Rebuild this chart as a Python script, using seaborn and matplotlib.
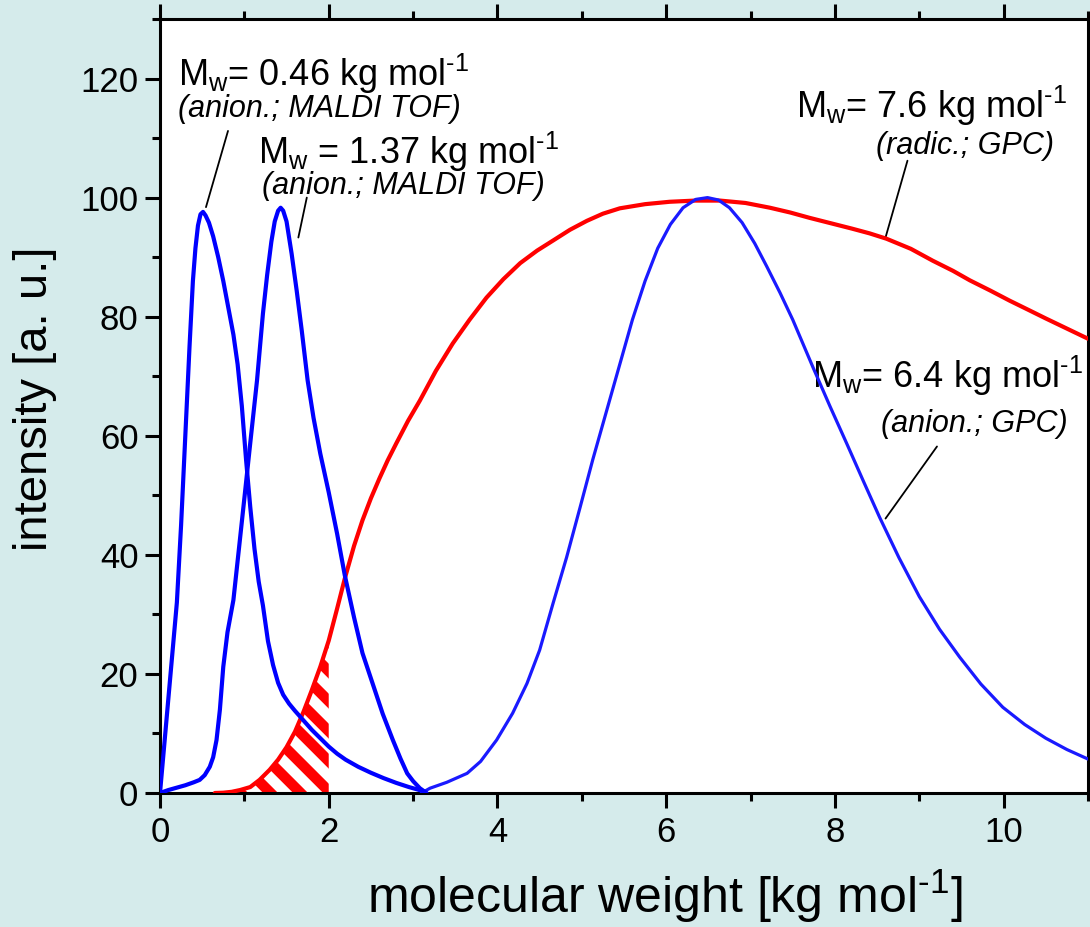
import numpy as np
import pandas as pd
import matplotlib
matplotlib.use("Agg")
import matplotlib.pyplot as plt
from matplotlib.collections import LineCollection
from matplotlib.ticker import MultipleLocator
import seaborn as sns

# ---------------- data ----------------
# anionic, MALDI TOF, Mw = 0.46 kg/mol
x_maldi1 = [0, 0.05, 0.1, 0.15, 0.2, 0.25, 0.3, 0.35, 0.39, 0.42, 0.45, 0.48, 0.51, 0.54,
            0.58, 0.63, 0.69, 0.75, 0.81, 0.87, 0.92, 0.97, 1.02, 1.07, 1.12, 1.17, 1.22,
            1.28, 1.34, 1.40, 1.46, 1.53, 1.6, 1.7, 1.8, 1.9, 2.0, 2.1, 2.2, 2.35, 2.5,
            2.65, 2.8, 2.95, 3.05, 3.12]
y_maldi1 = [0, 8, 16, 24, 32, 45, 60, 75, 86, 91.5, 95.3, 97.2, 97.6, 97,
            95.8, 93.5, 90, 86, 81.5, 77, 72, 65, 56, 48, 41, 35.5, 31.5,
            25.5, 21.5, 18.5, 16.5, 15, 13.8, 12.2, 10.6, 9.2, 7.8, 6.6, 5.6, 4.4, 3.4,
            2.5, 1.7, 1.0, 0.6, 0.3]
# anionic, MALDI TOF, Mw = 1.37 kg/mol
x_maldi2 = [0, 0.1, 0.2, 0.3, 0.4, 0.47, 0.53, 0.59, 0.63, 0.67, 0.71, 0.75, 0.8, 0.87,
            0.94, 1.0, 1.07, 1.15, 1.22, 1.27, 1.32, 1.36, 1.40, 1.43, 1.46, 1.50, 1.56,
            1.62, 1.68, 1.75, 1.82, 1.9, 2.0, 2.1, 2.19, 2.3, 2.4, 2.52, 2.64, 2.76, 2.85,
            2.93, 3.0, 3.08, 3.16]
y_maldi2 = [0, 0.5, 0.9, 1.3, 1.8, 2.2, 3.0, 4.4, 6, 8.9, 14, 21.2, 27, 32.4,
            41.6, 49.5, 58.8, 69.3, 80.5, 87, 92.6, 96, 97.8, 98.3, 97.8, 96, 90.6,
            84.4, 77.7, 69.3, 63, 57, 50.5, 43.5, 36.6, 29.5, 23.5, 18.4, 13.3, 8.9, 5.8,
            3.3, 2.0, 0.8, 0]
# anionic, GPC, Mw = 6.4 kg/mol
x_gpc_an = [3.1, 3.2, 3.4, 3.64, 3.8, 3.99, 4.18, 4.35, 4.5, 4.66, 4.82, 4.98, 5.13, 5.28,
            5.44, 5.6, 5.75, 5.9, 6.05, 6.2, 6.35, 6.49, 6.62, 6.75, 6.9, 7.05, 7.19, 7.35,
            7.5, 7.62, 7.74, 7.94, 8.14, 8.34, 8.53, 8.76, 9.0, 9.24, 9.48, 9.73, 9.99,
            10.25, 10.5, 10.75, 11.0]
y_gpc_an = [0, 0.8, 1.8, 3.3, 5.3, 8.9, 13.4, 18.4, 24, 31.9, 39.6, 48, 56, 63.5,
            71.5, 79.5, 86, 91.5, 95.5, 98.3, 99.7, 100, 99.6, 98.3, 95.8, 92.3, 88.5, 84,
            79.5, 75.5, 71.5, 65, 58.7, 52.3, 46.3, 39.5, 33, 27.5, 22.8, 18.3, 14.4,
            11.5, 9.2, 7.3, 5.7]
# radical, GPC, Mw = 7.6 kg/mol
x_gpc_rad = [0.65, 0.75, 0.85, 0.95, 1.07, 1.18, 1.30, 1.40, 1.50, 1.6, 1.7, 1.8, 1.9, 2.0,
             2.1, 2.19, 2.3, 2.4, 2.5, 2.6, 2.7, 2.8, 2.94, 3.08, 3.27, 3.47, 3.67, 3.87,
             4.07, 4.27, 4.47, 4.66, 4.86, 5.06, 5.25, 5.45, 5.75, 6.04, 6.34, 6.64, 6.94,
             7.23, 7.47, 7.7, 7.95, 8.2, 8.41, 8.61, 8.9, 9.16, 9.4, 9.6, 9.84, 10.07,
             10.3, 10.5, 10.75, 11.0]
y_gpc_rad = [0, 0.05, 0.2, 0.5, 1.0, 2.2, 3.9, 5.6, 7.7, 10.3, 13.6, 17.3, 21.2, 25.6,
             31, 36, 41.5, 45.8, 49.5, 52.8, 55.9, 58.7, 62.5, 65.9, 70.9, 75.5, 79.5, 83.2,
             86.3, 89, 91.1, 92.8, 94.6, 96.1, 97.3, 98.2, 98.9, 99.3, 99.5, 99.5, 99.1,
             98.3, 97.5, 96.6, 95.7, 94.8, 94, 93.1, 91.4, 89.4, 87.7, 86.1, 84.4, 82.7,
             81.1, 79.7, 78, 76.3]
hatch_end = 2.0  # hatched fraction of the radical sample below 2 kg/mol

x_ticks = [0, 2, 4, 6, 8, 10]
y_ticks = [0, 20, 40, 60, 80, 100, 120]

# ---------------- style ----------------
sns.set_theme(style="ticks")
BG = "#d5ebeb"
plt.rcParams["font.family"] = ["Liberation Sans", "DejaVu Sans"]
plt.rcParams["mathtext.fontset"] = "custom"
plt.rcParams["mathtext.rm"] = "Liberation Sans"
plt.rcParams["mathtext.it"] = "Liberation Sans:italic"
plt.rcParams["mathtext.default"] = "regular"
plt.rcParams["text.color"] = "black"
plt.rcParams["axes.labelcolor"] = "black"
plt.rcParams["xtick.color"] = "black"
plt.rcParams["ytick.color"] = "black"
plt.rcParams["xtick.labelsize"] = 25
plt.rcParams["ytick.labelsize"] = 25

fig = plt.figure(figsize=(10.9, 9.27), dpi=100, facecolor=BG)
ax = fig.add_axes([160 / 1090, (927 - 793) / 927, 928 / 1090, 774 / 927])
ax.set_facecolor("white")
ax.set_xlim(0, 11)
ax.set_ylim(0, 130)

df_rad = pd.DataFrame({"x": x_gpc_rad, "y": y_gpc_rad})
df_an = pd.DataFrame({"x": x_gpc_an, "y": y_gpc_an})
df_m1 = pd.DataFrame({"x": x_maldi1, "y": y_maldi1})
df_m2 = pd.DataFrame({"x": x_maldi2, "y": y_maldi2})

# hatched area under the radical curve
xs = np.linspace(x_gpc_rad[0], hatch_end, 200)
ys = np.interp(xs, x_gpc_rad, y_gpc_rad)
poly = ax.fill_between(xs, 0, ys, facecolor="none", edgecolor="none")
fig.canvas.draw()
bb = ax.get_window_extent()
sx = bb.width / 11.0
sy = bb.height / 130.0
slope = sx / sy  # 45 degrees on screen
spacing = 30.0 / sy
segs = []
for c in np.arange(0, 80, spacing):
    x0, x1 = 0.0, 3.0
    segs.append([(x0, c - (x0 - 0.6) * slope), (x1, c - (x1 - 0.6) * slope)])
lc = LineCollection(segs, colors="#ff0000", linewidths=7.6, zorder=2)
ax.add_collection(lc)
lc.set_clip_path(poly.get_paths()[0], ax.transData)

sns.lineplot(data=df_rad, x="x", y="y", ax=ax, color="#ff0000", lw=3.0, sort=False,
             estimator=None, zorder=3)
sns.lineplot(data=df_an, x="x", y="y", ax=ax, color="#1a1aff", lw=2.3, sort=False,
             estimator=None, zorder=4)
sns.lineplot(data=df_m1, x="x", y="y", ax=ax, color="#0000ff", lw=3.0, sort=False,
             estimator=None, zorder=4)
sns.lineplot(data=df_m2, x="x", y="y", ax=ax, color="#0000ff", lw=3.0, sort=False,
             estimator=None, zorder=4)

# annotations
big = 26
small = 22
ax.text(0.21, 118.8, r"M$_{w}$= 0.46 kg mol$^{\text{-1}}$", fontsize=big, ha="left", va="baseline")
ax.text(0.21, 113.6, "(anion.; MALDI TOF)", fontsize=small, style="italic", ha="left", va="baseline")
ax.plot([0.806, 0.545], [111.2, 98.4], color="black", lw=1.3)

ax.text(1.16, 105.7, r"M$_{w}$ = 1.37 kg mol$^{\text{-1}}$", fontsize=big, ha="left", va="baseline")
ax.text(1.21, 100.6, "(anion.; MALDI TOF)", fontsize=small, style="italic", ha="left", va="baseline")
ax.plot([1.74, 1.64], [100.0, 93.3], color="black", lw=1.3)

ax.text(10.75, 113.4, r"M$_{w}$= 7.6 kg mol$^{\text{-1}}$", fontsize=big, ha="right", va="baseline")
ax.text(10.6, 107.3, "(radic.; GPC)", fontsize=small, style="italic", ha="right", va="baseline")
ax.plot([8.86, 8.60], [106.2, 93.3], color="black", lw=1.3)

ax.text(10.94, 68.0, r"M$_{w}$= 6.4 kg mol$^{\text{-1}}$", fontsize=big, ha="right", va="baseline")
ax.text(10.76, 60.6, "(anion.; GPC)", fontsize=small, style="italic", ha="right", va="baseline")
ax.plot([9.21, 8.60], [58.2, 46.1], color="black", lw=1.3)

# axes styling
ax.set_xticks(x_ticks)
ax.set_yticks(y_ticks)
ax.xaxis.set_minor_locator(MultipleLocator(1))
ax.yaxis.set_minor_locator(MultipleLocator(10))
ax.tick_params(which="both", direction="out", top=True, right=True, width=2.2,
               color="black", labelcolor="black")
ax.tick_params(which="major", length=10.5, pad=5, labelsize=25)
ax.tick_params(which="minor", length=5.5)
ax.tick_params(axis="x", which="major", pad=6)
for lab in ax.get_xticklabels() + ax.get_yticklabels():
    lab.set_fontsize(25)
for s in ax.spines.values():
    s.set_linewidth(2.2)
    s.set_color("black")
    s.set_visible(True)

ax.set_xlabel(r"molecular weight [kg mol$^{\text{-1}}$]", fontsize=36, color="black")
ax.set_ylabel("intensity [a. u.]", fontsize=34, color="black")
ax.xaxis.set_label_coords(0.544, -0.155)
ax.xaxis.label.set_va("baseline")
ax.yaxis.set_label_coords(-0.135, 0.51)
ax.yaxis.label.set_va("center")

fig.savefig("out.png", dpi=100, facecolor=BG)
